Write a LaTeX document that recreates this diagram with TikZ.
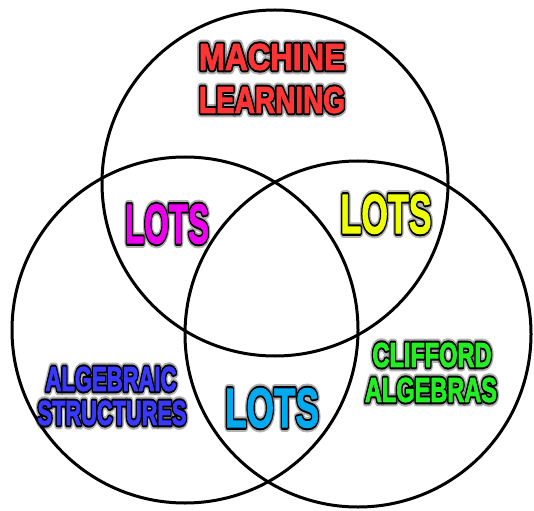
\documentclass[tikz,border=0pt]{standalone}
\usepackage{fontspec}
\setmainfont{Liberation Sans}
\usetikzlibrary{calc}

% Bold caps set at a size whose cap height is #1, then squeezed to width #2
\newcommand\capsbox[3]{%
  \resizebox{#2}{#1}{\fontsize{\dimexpr #1*1396/1000\relax}{\dimexpr #1*1396/1000\relax}\selectfont\bfseries #3}}
% Text drawn filled and stroked in black with a pen of width #1
\newcommand\inkstroke[2]{%
  \special{pdf:literal direct 2 Tr #1 w 1 j 0 0 0 RG 0 0 0 rg}#2\special{pdf:literal direct 0 Tr}}
% Text filled and stroked in the current colour, which thickens the letters
\newcommand\heavier[2]{%
  \special{pdf:literal direct 2 Tr #1 w 1 j}#2\special{pdf:literal direct 0 Tr}}

% Caption with a dark halo behind it
\newcommand\haloword[6]{% #1 name, #2 centre, #3 width, #4 cap height, #5 colour, #6 text
  \node[halo, opacity=0.3] at (#2) {\inkstroke{9}{\capsbox{#4}{#3}{#6}}};
  \node[halo] at (#2) {\inkstroke{5}{\capsbox{#4}{#3}{#6}}};
  \node[inner sep=0pt, text=#5] (#1) at (#2) {\heavier{1}{\capsbox{#4}{#3}{#6}}};
}

\definecolor{mlred}{HTML}{FF3535}
\definecolor{asblue}{HTML}{3838FF}
\definecolor{cagreen}{HTML}{22EE22}
\definecolor{lotmag}{HTML}{EE00EE}
\definecolor{lotyel}{HTML}{EEFF00}
\definecolor{lotcyan}{HTML}{00AAEE}

\begin{document}
\begin{tikzpicture}[x=1pt, y=-1pt,
  venn/.style={circle, draw=black, line width=3pt, minimum size=346pt, inner sep=0pt},
  halo/.style={inner sep=0pt, text=black}]
  \useasboundingbox (0,0) rectangle (534,510);
  \fill[white] (0,0) rectangle (534,510);

  % the three sets
  \node[venn] (ml)  at (275,183) {};
  \node[venn] (alg) at (185,330) {};
  \node[venn] (cl)  at (358,334) {};

  % set labels
  \haloword{ml1}{272,57}{146pt}{26pt}{mlred}{MACHINE}
  \haloword{ml2}{272,100}{146pt}{26pt}{mlred}{LEARNING}
  \haloword{as1}{111,379}{131pt}{24pt}{asblue}{ALGEBRAIC}
  \haloword{as2}{112,413}{149pt}{24pt}{asblue}{STRUCTURES}
  \haloword{ca1}{432,355}{119pt}{24pt}{cagreen}{CLIFFORD}
  \haloword{ca2}{431,390}{132pt}{24pt}{cagreen}{ALGEBRAS}

  % pairwise overlaps
  \haloword{lm}{167,224}{84pt}{39pt}{lotmag}{LOTS}
  \haloword{ly}{386,214}{91pt}{39pt}{lotyel}{LOTS}
  \haloword{lc}{272,408}{94pt}{39pt}{lotcyan}{LOTS}
\end{tikzpicture}
\end{document}
